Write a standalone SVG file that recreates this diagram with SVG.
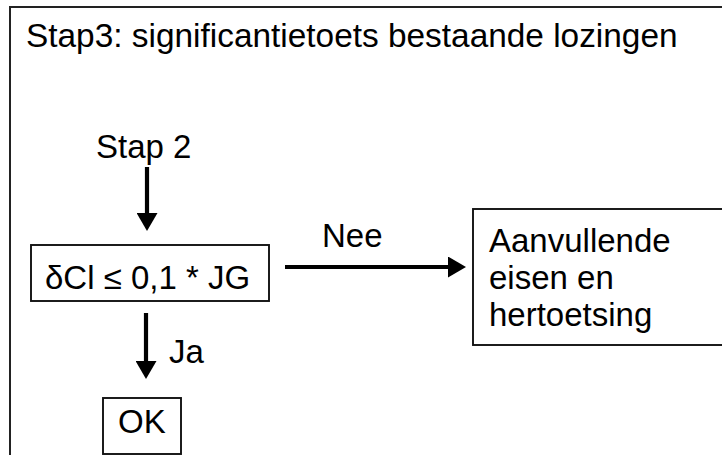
<svg xmlns="http://www.w3.org/2000/svg" width="722" height="455" viewBox="0 0 722 455">
<style>
text{font-family:"Liberation Sans",Arial,sans-serif;font-size:33px;fill:#000}
.title{font-size:33.4px}
.box{fill:#fff;stroke:#111;stroke-width:1.9}
.frame{fill:#fff;stroke:#222;stroke-width:2}
.con{stroke:#000;stroke-width:4.2;fill:none;marker-end:url(#ah)}
</style>
<defs>
<marker id="ah" markerUnits="userSpaceOnUse" markerWidth="18" markerHeight="21" viewBox="0 0 18 21" refX="0" refY="10.5" orient="auto">
<path d="M0,0 L18,10.5 L0,21 z" fill="#000"/>
</marker>
</defs>
<rect width="722" height="455" fill="#fff"/>
<g id="frame">
<rect class="frame" x="10" y="7" width="730" height="470"/>
<text class="title" x="26" y="47">Stap3: significantietoets bestaande lozingen</text>
</g>
<g id="stap2">
<text x="96" y="158">Stap 2</text>
</g>
<g id="check">
<rect class="box" x="31" y="245" width="238" height="56"/>
<text x="45" y="289">δCl ≤ 0,1 * JG</text>
</g>
<g id="aanvullend">
<rect class="box" x="473" y="209" width="260" height="136"/>
<text x="489" y="252">Aanvullende</text>
<text x="489" y="289">eisen en</text>
<text x="489" y="326">hertoetsing</text>
</g>
<g id="ok">
<rect class="box" x="103" y="398" width="78" height="56"/>
<text x="118" y="433">OK</text>
</g>
<g id="connectors">
<line class="con" x1="147" y1="167" x2="147" y2="213"/>
<line class="con" x1="285" y1="267" x2="448" y2="267"/>
<text x="322" y="247">Nee</text>
<line class="con" x1="146" y1="313" x2="146" y2="361"/>
<text x="169" y="363">Ja</text>
</g>
</svg>
